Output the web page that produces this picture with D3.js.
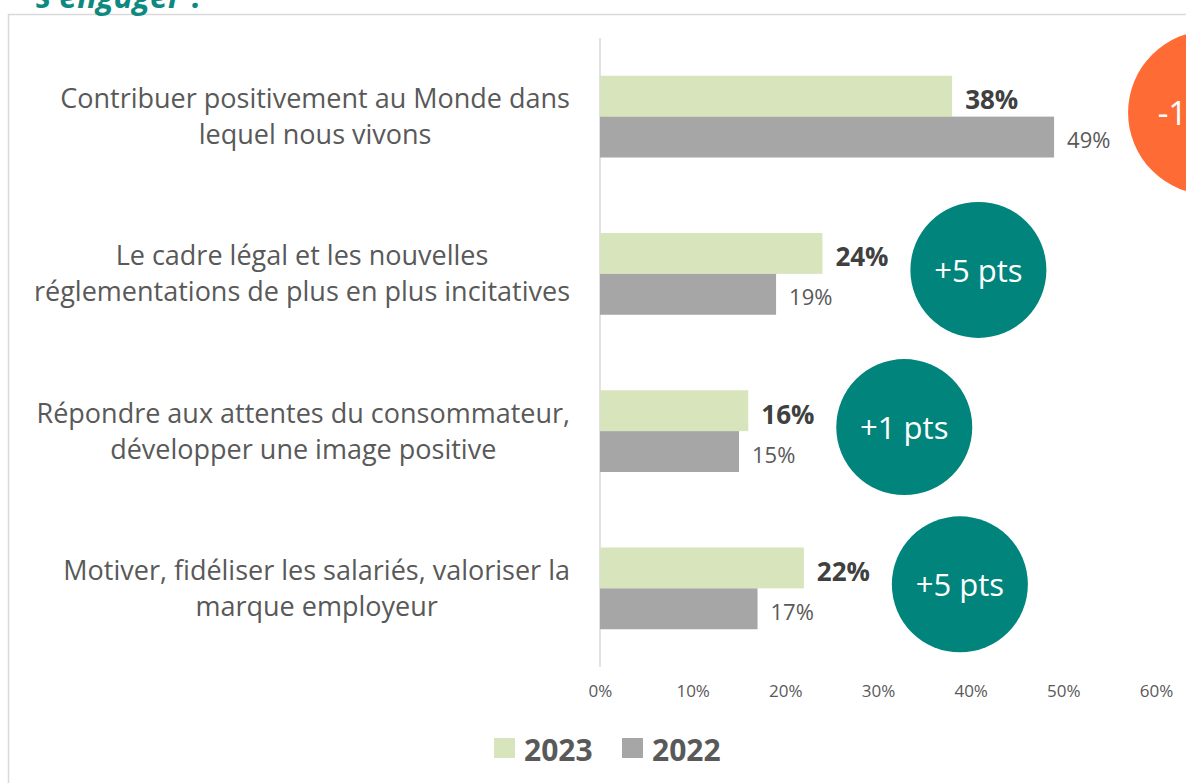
<!DOCTYPE html>
<html lang="fr">
<head>
  <meta charset="UTF-8" />
  <title>Raisons de s'engager</title>
  <script src="https://d3js.org/d3.v7.min.js"></script>
  <style>
    body { margin: 0; background: #fff; }
    svg { font-family: "Open Sans", sans-serif; display: block; }
    .cat { fill: #595959; font-size: 27px; }
    .tick text { fill: #595959; font-size: 17px; }
  </style>
</head>
<body>
  <svg width="1186" height="783"></svg>

  <script>
    const categories = [
      "Contribuer positivement au Monde dans\nlequel nous vivons",
      "Le cadre légal et les nouvelles\nréglementations de plus en plus incitatives",
      "Répondre aux attentes du consommateur,\ndévelopper une image positive",
      "Motiver, fidéliser les salariés, valoriser la\nmarque employeur"
    ];
    const years = ["2023", "2022"];
    const values2023 = [38, 24, 16, 22];
    const values2022 = [49, 19, 15, 17];
    const xTicks = [0, 10, 20, 30, 40, 50, 60];

    const colors = { "2023": "#d8e4bc", "2022": "#a6a6a6" };

    const svg = d3.select("svg");

    // frame and cropped heading
    svg.append("path")
      .attr("d", "M8.5,790 V14.5 H1200")
      .attr("fill", "none")
      .attr("stroke", "#d9d9d9")
      .attr("stroke-width", 1.5);

    svg.append("text")
      .attr("x", 36)
      .attr("y", 8)
      .attr("fill", "#0d8a80")
      .attr("font-size", 32)
      .attr("font-weight", "bold")
      .attr("font-style", "italic")
      .text("s'engager ?");

    const x = d3.scaleLinear().domain([0, 60]).range([600, 1156]);

    const y = d3.scaleBand()
      .domain(categories)
      .range([38, 667])
      .paddingInner(0.48)
      .paddingOuter(0.24);

    const sub = d3.scaleBand().domain(years).range([0, y.bandwidth()]);

    const rows = categories.map((c, i) => ({
      cat: c,
      "2023": values2023[i],
      "2022": values2022[i],
      delta: values2023[i] - values2022[i]
    }));

    // x axis labels
    const xAxis = svg.append("g")
      .attr("transform", "translate(0,685)")
      .call(d3.axisBottom(x).tickValues(xTicks).tickSize(0).tickPadding(0).tickFormat(d => d + "%"));
    xAxis.select(".domain").remove();
    xAxis.selectAll(".tick text").attr("font-family", "Open Sans, sans-serif");

    // vertical axis line
    svg.append("line")
      .attr("x1", x(0)).attr("x2", x(0))
      .attr("y1", 38).attr("y2", 667)
      .attr("stroke", "#d9d9d9")
      .attr("stroke-width", 1.5);

    const g = svg.selectAll("g.row")
      .data(rows)
      .join("g")
      .attr("class", "row")
      .attr("transform", d => `translate(0,${y(d.cat)})`);

    g.selectAll("rect")
      .data(d => years.map(k => ({ key: k, value: d[k] })))
      .join("rect")
      .attr("x", x(0))
      .attr("y", d => sub(d.key))
      .attr("width", d => x(d.value) - x(0))
      .attr("height", sub.bandwidth())
      .attr("fill", d => colors[d.key]);

    g.selectAll("text.val")
      .data(d => years.map(k => ({ key: k, value: d[k] })))
      .join("text")
      .attr("class", "val")
      .attr("x", d => x(d.value) + 13)
      .attr("y", d => sub(d.key) + sub.bandwidth() / 2 + (d.key === "2023" ? 3 : 2))
      .attr("dominant-baseline", "central")
      .attr("fill", d => d.key === "2023" ? "#404040" : "#595959")
      .attr("font-size", d => d.key === "2023" ? 26 : 22)
      .attr("font-weight", d => d.key === "2023" ? "bold" : "normal")
      .text(d => d.value + "%");

    // category labels, lines centred, block right-aligned
    g.each(function (d) {
      const lines = d.cat.split("\n");
      const t = d3.select(this).append("text")
        .attr("class", "cat")
        .attr("text-anchor", "middle");
      const spans = t.selectAll("tspan")
        .data(lines)
        .join("tspan")
        .attr("y", (l, i) => y.bandwidth() / 2 + (i === 0 ? -19 : 17))
        .attr("dominant-baseline", "central")
        .text(l => l);
      const maxW = d3.max(spans.nodes(), n => n.getComputedTextLength());
      spans.attr("x", 570 - maxW / 2);
    });

    // delta bubbles
    g.append("circle")
      .attr("cx", d => x(Math.max(d["2023"], d["2022"])) + 156)
      .attr("cy", y.bandwidth() / 2 - 4)
      .attr("r", d => d.delta < 0 ? 82 : 68)
      .attr("fill", d => d.delta < 0 ? "#ff6b35" : "#00847b");

    g.append("text")
      .attr("x", d => x(Math.max(d["2023"], d["2022"])) + 156)
      .attr("y", y.bandwidth() / 2 - 4)
      .attr("text-anchor", "middle")
      .attr("dominant-baseline", "central")
      .attr("fill", "#fff")
      .attr("font-size", d => d.delta < 0 ? 33 : 31)
      .text(d => (d.delta > 0 ? "+" : "") + d.delta + " pts");

    // legend
    const legend = svg.append("g").attr("transform", "translate(494,738)");
    const items = legend.selectAll("g")
      .data(years)
      .join("g")
      .attr("transform", (d, i) => `translate(${i * 128},0)`);
    items.append("rect")
      .attr("width", 21).attr("height", 20)
      .attr("fill", d => colors[d]);
    items.append("text")
      .attr("x", 30)
      .attr("y", 11)
      .attr("dominant-baseline", "central")
      .attr("fill", "#595959")
      .attr("font-size", 30)
      .attr("font-weight", "bold")
      .text(d => d);
  </script>
</body>
</html>
